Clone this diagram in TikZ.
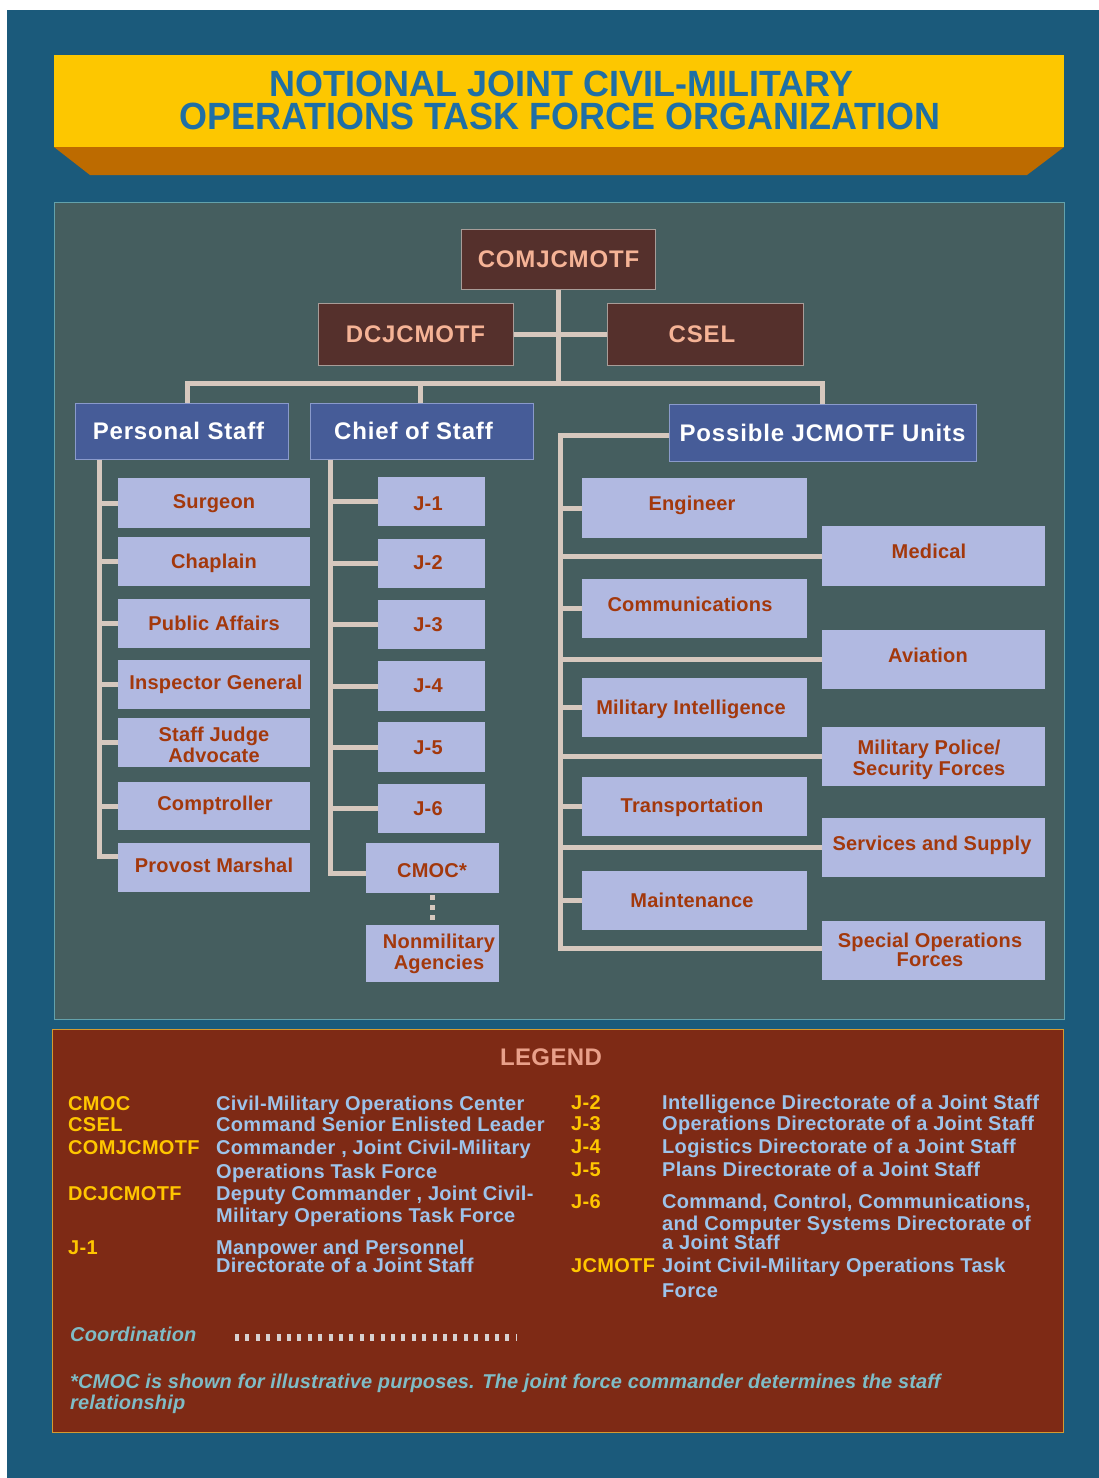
\documentclass[tikz,border=0pt]{standalone}
\usepackage{fontspec}
\setmainfont[LetterSpace=1.0]{Liberation Sans}
\newfontfamily\hdfont[LetterSpace=3.5]{Liberation Sans}
\newfontfamily\lgfont[LetterSpace=1.6]{Liberation Sans}
\newfontfamily\itfont[LetterSpace=0.8]{Liberation Sans}
\newfontfamily\ttlfont{Liberation Sans}
\usetikzlibrary{calc}
\definecolor{bgblue}{HTML}{1B5A7B}
\definecolor{banyel}{HTML}{FDC700}
\definecolor{banor}{HTML}{BD6B00}
\definecolor{titleblue}{HTML}{1F6FA5}
\definecolor{panel}{HTML}{455E5F}
\definecolor{panelborder}{HTML}{63A2AC}
\definecolor{brownfill}{HTML}{55302C}
\definecolor{brownborder}{HTML}{A89C98}
\definecolor{salmon}{HTML}{F5B396}
\definecolor{bluefill}{HTML}{465C98}
\definecolor{blueborder}{HTML}{8A9ACB}
\definecolor{lav}{HTML}{B1B9E1}
\definecolor{unittext}{HTML}{A3380C}
\definecolor{connc}{HTML}{D6C8BE}
\definecolor{legbg}{HTML}{7E2A15}
\definecolor{legborder}{HTML}{D49A30}
\definecolor{legtitle}{HTML}{E9A08A}
\definecolor{legyel}{HTML}{FFC600}
\definecolor{legblue}{HTML}{9DC3EA}
\definecolor{legteal}{HTML}{7FBCC6}
\definecolor{dashc}{HTML}{D8D0D0}
\newcommand\tbox[7]{\node[#1, minimum width={#5-#3}, minimum height={#6-#4}] (#2) at ({(#3+#5)/2},{(#4+#6)/2}) {#7};}
\newcommand\ut[4]{\node[utext, anchor=base] (#1) at (#2,{#3+7}) {#4};}
\newcommand\utt[6][21]{\node[utext, anchor=north, font=\fontsize{20}{#1}\selectfont\bfseries] (#2) at (#3,{#4-7.5}) {#5\\#6};}
\newcommand\lgd[5]{\node[#1, anchor=base west] (#2) at (#3,{#4+7}) {#5};}
\begin{document}
\begin{tikzpicture}[x=1pt,y=-1pt,
  brownbox/.style={draw=brownborder, line width=1pt, fill=brownfill, text=salmon, font=\hdfont\fontsize{24}{26}\selectfont\bfseries, inner sep=0pt},
  bluebox/.style={draw=blueborder, line width=1pt, fill=bluefill, text=white, font=\hdfont\fontsize{24}{26}\selectfont\bfseries, inner sep=0pt},
  ubox/.style={fill=lav, draw=none, inner sep=0pt},
  utext/.style={text=unittext, font=\fontsize{20}{21}\selectfont\bfseries, inner sep=0pt, align=center},
  conn/.style={draw=connc, line width=5pt},
  coordl/.style={draw=connc, line width=5pt, dash pattern=on 5pt off 5pt, dash phase=-2pt},
  legab/.style={text=legyel, font=\lgfont\fontsize{20}{22}\selectfont\bfseries, inner sep=0pt},
  legds/.style={text=legblue, font=\lgfont\fontsize{20}{22}\selectfont\bfseries, inner sep=0pt},
  legit/.style={text=legteal, font=\itfont\fontsize{20}{22}\selectfont\bfseries\itshape, inner sep=0pt}]
\useasboundingbox (0,0) rectangle (1099,1478);
\fill[white] (0,0) rectangle (1099,1478);
\fill[bgblue] (7,10) rectangle (1099,1478);
% banner
\fill[banyel] (54,55) rectangle (1064,147);
\fill[banor] (54,147) -- (1064,147) -- (1027,175) -- (90,175) -- cycle;
\node[anchor=base, inner sep=0pt, text=titleblue] (title1) at (561.5,96.5) {\resizebox{583pt}{25.5pt}{\ttlfont\bfseries NOTIONAL JOINT CIVIL-MILITARY}};
\node[anchor=base, inner sep=0pt, text=titleblue] (title2) at (560,129.5) {\resizebox{760pt}{26.5pt}{\ttlfont\bfseries OPERATIONS TASK FORCE ORGANIZATION}};
% panels
\filldraw[fill=panel, draw=panelborder, line width=1pt] (54,202) rectangle (1064,1019);
\filldraw[fill=legbg, draw=legborder, line width=1pt] (52,1029) rectangle (1063,1432);
% top boxes
\tbox{brownbox}{comj}{461}{229}{655}{289}{\hspace*{1pt}COMJCMOTF}
\tbox{brownbox}{dcj}{318}{303}{513}{365}{DCJCMOTF}
\tbox{brownbox}{csel}{607}{303}{803}{365}{CSEL\hspace*{6pt}}
\tbox{bluebox}{ps}{75}{403}{288}{459}{Personal Staff\hspace*{6pt}}
\tbox{bluebox}{cos}{310}{403}{533}{459}{Chief of Staff\hspace*{16pt}}
\tbox{bluebox}{pu}{669}{404}{976}{461}{Possible JCMOTF Units}
% boxes personal staff
\tbox{ubox}{surgeon}{118}{478}{310}{528}{}
\tbox{ubox}{chaplain}{118}{537}{310}{586}{}
\tbox{ubox}{public}{118}{599}{310}{648}{}
\tbox{ubox}{inspector}{118}{660}{310}{709}{}
\tbox{ubox}{sja}{118}{718}{310}{767}{}
\tbox{ubox}{comptroller}{118}{782}{310}{830}{}
\tbox{ubox}{provost}{118}{843}{310}{892}{}
% J boxes
\tbox{ubox}{j1}{378}{477}{485}{526}{}
\tbox{ubox}{j2}{378}{539}{485}{588}{}
\tbox{ubox}{j3}{378}{600}{485}{649}{}
\tbox{ubox}{j4}{378}{661}{485}{711}{}
\tbox{ubox}{j5}{378}{722}{485}{772}{}
\tbox{ubox}{j6}{378}{784}{485}{833}{}
\tbox{ubox}{cmoc}{366}{843}{499}{893}{}
\tbox{ubox}{nonmil}{366}{925}{499}{982}{}
% units
\tbox{ubox}{engineer}{582}{478}{807}{538}{}
\tbox{ubox}{comms}{582}{579}{807}{638}{}
\tbox{ubox}{milint}{582}{678}{807}{737}{}
\tbox{ubox}{transp}{582}{777}{807}{836}{}
\tbox{ubox}{maint}{582}{871}{807}{930}{}
\tbox{ubox}{medical}{822}{526}{1045}{586}{}
\tbox{ubox}{aviation}{822}{630}{1045}{689}{}
\tbox{ubox}{mp}{822}{727}{1045}{786}{}
\tbox{ubox}{sns}{822}{818}{1045}{877}{}
\tbox{ubox}{sof}{822}{921}{1045}{980}{}
% connectors
\coordinate (hl) at (559,383);
\coordinate (pst) at ([xshift=25pt]ps.south west);
\coordinate (cst) at ([xshift=21pt]cos.south west);
\coordinate (utx) at (560,0);
\coordinate (sofl) at ([yshift=2.5pt]sof.west);
\coordinate (puw) at ([yshift=-2.5pt]pu.west);
\coordinate (provc) at ([yshift=11pt]provost.west);
\coordinate (cmocc) at ([yshift=-5pt]cmoc.west);
\draw[conn] (comj.south) -- (comj.south |- hl);
\draw[conn] (dcj.east) -- (csel.west);
\draw[conn] ([xshift=6pt]ps.north) |- (hl) -| (pu.north);
\draw[conn] ([xshift=-1.5pt]cos.north) -- ([xshift=-1.5pt]cos.north |- hl);
\draw[conn] (pst) |- (provc);
\foreach \n in {surgeon,chaplain,public,inspector,sja,comptroller} \draw[conn] (\n.west) -- (\n.west -| pst);
\draw[conn] (cst) |- (cmocc);
\foreach \n in {j1,j2,j3,j4,j5,j6} \draw[conn] (\n.west) -- (\n.west -| cst);
\draw[conn] (puw) -| (utx |- sofl) -- (sofl);
\foreach \n in {engineer,comms,milint,transp,maint,medical,aviation,mp,sns} \draw[conn] (\n.west) -- (\n.west -| utx);
\draw[coordl] (cmoc.south) -- (nonmil.north);
% redraw boxes on top of line ends
\foreach \n in {surgeon,chaplain,public,inspector,sja,comptroller,provost,j1,j2,j3,j4,j5,j6,cmoc,nonmil,engineer,comms,milint,transp,maint,medical,aviation,mp,sns,sof} \fill[lav] (\n.north west) rectangle (\n.south east);
% texts
\ut{surgeon-t}{214}{501}{Surgeon}
\ut{chaplain-t}{214}{561}{Chaplain}
\ut{public-t}{214}{623}{Public Affairs}
\ut{inspector-t}{216}{682}{Inspector General}
\utt{sja-t}{214}{734}{Staff Judge}{Advocate}
\ut{comptroller-t}{215}{803}{Comptroller}
\ut{provost-t}{214}{865}{Provost Marshal}
\ut{j1-t}{428}{503}{J-1}
\ut{j2-t}{428}{562}{J-2}
\ut{j3-t}{428}{624}{J-3}
\ut{j4-t}{428}{685}{J-4}
\ut{j5-t}{428}{747}{J-5}
\ut{j6-t}{428}{808}{J-6}
\ut{cmoc-t}{432}{870}{CMOC*}
\utt{nonmil-t}{439}{941}{Nonmilitary}{Agencies}
\ut{engineer-t}{692}{503}{Engineer}
\ut{comms-t}{690}{604}{Communications}
\ut{milint-t}{691}{707}{Military Intelligence}
\ut{transp-t}{692}{805}{Transportation}
\ut{maint-t}{692}{900}{Maintenance}
\ut{medical-t}{929}{551}{Medical}
\ut{aviation-t}{928}{655}{Aviation}
\utt{mp-t}{929}{747}{Military Police/}{Security Forces}
\ut{sns-t}{932}{843}{Services and Supply}
\utt[19]{sof-t}{930}{940}{Special Operations}{Forces}
% legend
\node[anchor=center, inner sep=0pt, text=legtitle, font=\lgfont\fontsize{24}{26}\selectfont\bfseries] (legend) at (551,1057) {LEGEND};
\lgd{legab}{a1}{68}{1103}{CMOC}
\lgd{legab}{a2}{68}{1124}{CSEL}
\lgd{legab}{a3}{68}{1147}{COMJCMOTF}
\lgd{legab}{a4}{68}{1193}{DCJCMOTF}
\lgd{legab}{a5}{68}{1247}{J-1}
\lgd{legds}{d1}{216}{1103}{Civil-Military Operations Center}
\lgd{legds}{d2}{216}{1124}{Command Senior Enlisted Leader}
\lgd{legds}{d3}{216}{1147}{Commander , Joint Civil-Military}
\lgd{legds}{d3b}{216}{1171}{Operations Task Force}
\lgd{legds}{d4}{216}{1193}{Deputy Commander , Joint Civil-}
\lgd{legds}{d4b}{216}{1215}{Military Operations Task Force}
\lgd{legds}{d5}{216}{1247}{Manpower and Personnel}
\lgd{legds}{d5b}{216}{1265}{Directorate of a Joint Staff}
\lgd{legab}{b1}{571}{1102}{J-2}
\lgd{legab}{b2}{571}{1123}{J-3}
\lgd{legab}{b3}{571}{1146}{J-4}
\lgd{legab}{b4}{571}{1169}{J-5}
\lgd{legab}{b5}{571}{1201}{J-6}
\lgd{legab}{b6}{571}{1265}{JCMOTF}
\lgd{legds}{e1}{662}{1102}{Intelligence Directorate of a Joint Staff}
\lgd{legds}{e2}{662}{1123}{Operations Directorate of a Joint Staff}
\lgd{legds}{e3}{662}{1146}{Logistics Directorate of a Joint Staff}
\lgd{legds}{e4}{662}{1169}{Plans Directorate of a Joint Staff}
\lgd{legds}{e5}{662}{1201}{Command, Control, Communications,}
\lgd{legds}{e5b}{662}{1223}{and Computer Systems Directorate of}
\lgd{legds}{e5c}{662}{1242}{a Joint Staff}
\lgd{legds}{e6}{662}{1265}{Joint Civil-Military Operations Task}
\lgd{legds}{e6b}{662}{1290}{Force}
\lgd{legit}{coordt}{70}{1334}{Coordination}
\coordinate (cd1) at (235,1337.5);
\coordinate (cd2) at (516,1337.5);
\draw[draw=dashc, line width=7pt, dash pattern=on 4pt off 6.4pt] (cd1) -- (cd2);
\lgd{legit}{foot1}{70}{1381}{*CMOC is shown for illustrative purposes. The joint force commander determines the staff}
\lgd{legit}{foot2}{70}{1402}{relationship}
\end{tikzpicture}
\end{document}
